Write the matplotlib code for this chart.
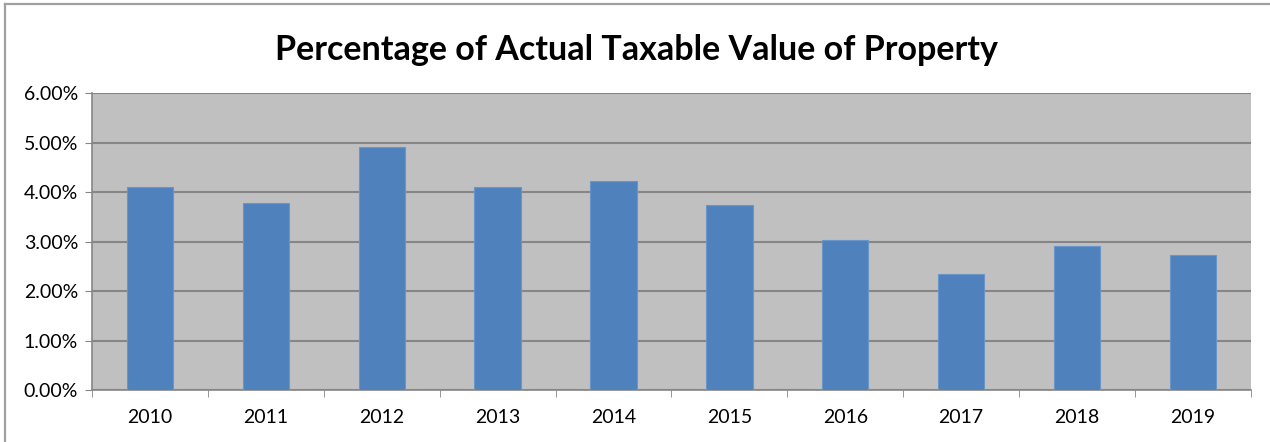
import matplotlib.pyplot as plt
from matplotlib.lines import Line2D
from matplotlib.ticker import FuncFormatter, MultipleLocator

plt.rcParams['font.family'] = ['Lato', 'DejaVu Sans']

years = ['2010', '2011', '2012', '2013', '2014', '2015', '2016', '2017', '2018', '2019']
pct_taxable = [4.11, 3.78, 4.90, 4.10, 4.22, 3.73, 3.04, 2.35, 2.91, 2.73]

fig = plt.figure(figsize=(12.7, 4.42), dpi=100)

# chart frame (only top and left edges fall inside the image)
fx, fy = 5 / 1270, 1 - 4 / 442
fig.lines.append(Line2D([fx, 1.0], [fy, fy], transform=fig.transFigure, color='#a0a0a0', linewidth=1.6))
fig.lines.append(Line2D([fx, fx], [0.0, fy], transform=fig.transFigure, color='#a0a0a0', linewidth=1.6))

ax = fig.add_axes([0.0724, 0.1176, 0.9126, 0.672])
ax.set_facecolor('#c0c0c0')

x = range(len(years))
ax.bar(x, pct_taxable, width=0.4, color='#4f81bd', edgecolor='#6a95c8', linewidth=0.8, zorder=3)

ax.set_xlim(-0.5, len(years) - 0.5)
ax.set_ylim(0, 6)
ax.yaxis.set_major_locator(MultipleLocator(1))
ax.yaxis.set_major_formatter(FuncFormatter(lambda v, p: f'{v:.2f}%'))
ax.grid(axis='y', color='#868686', linewidth=1.5, zorder=1)

ax.set_xticks(list(x))
ax.set_xticklabels(years)
ax.set_xticks([i - 0.5 for i in range(len(years) + 1)], minor=True)
ax.tick_params(axis='x', which='major', length=0, pad=14, labelsize=14)
ax.tick_params(axis='x', which='minor', length=5, color='#868686', direction='out')
ax.tick_params(axis='y', length=5, color='#868686', labelsize=14, pad=5)

for side in ['top', 'right']:
    ax.spines[side].set_visible(False)
for side in ['left', 'bottom']:
    ax.spines[side].set_color('#868686')
    ax.spines[side].set_linewidth(1.2)

fig.text(0.501, 0.888, 'Percentage of Actual Taxable Value of Property', ha='center', va='center',
         fontsize=24.5, fontweight='bold', color='black')

fig.savefig('out.png', dpi=100)
